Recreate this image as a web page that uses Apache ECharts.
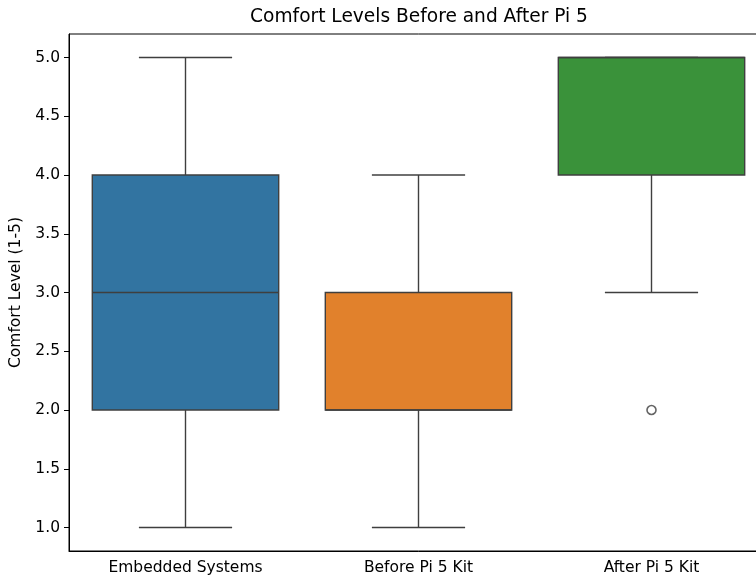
<!DOCTYPE html>
<html style="height: 100%">
   <head>
       <meta charset="utf-8">
   </head>
   <body style="height: 100%; margin: 0; overflow: hidden">
       <div id="container" style="width: 768px; height: 579px"></div>
       <script type="text/javascript" src="https://cdn.jsdelivr.net/npm/echarts@6/dist/echarts.min.js"></script>
       <script type="text/javascript">
var categories = ['Embedded Systems', 'Before Pi 5 Kit', 'After Pi 5 Kit'];
var whiskerLow = [1, 1, 3];
var q1 = [2, 2, 4];
var median = [3, 2, 5];
var q3 = [4, 3, 5];
var whiskerHigh = [5, 4, 5];
var outliers = [[2, 2]];
var boxColors = ['#3274a1', '#e1812c', '#3a923a'];
var yTicks = [1.0, 1.5, 2.0, 2.5, 3.0, 3.5, 4.0, 4.5, 5.0];

var lineColor = '#3f3f3f';
var fontFamily = 'DejaVu Sans';

var dom = document.getElementById("container");
var myChart = echarts.init(dom);

var boxData = categories.map(function (c, i) {
    return [i, whiskerLow[i], q1[i], median[i], q3[i], whiskerHigh[i]];
});

function renderBox(params, api) {
    var idx = api.value(0);
    var band = api.size([1, 0])[0];
    var boxW = band * 0.8;
    var capW = boxW * 0.5;
    var x = api.coord([idx, 0])[0];
    var yLow = api.coord([idx, api.value(1)])[1];
    var yQ1 = api.coord([idx, api.value(2)])[1];
    var yMed = api.coord([idx, api.value(3)])[1];
    var yQ3 = api.coord([idx, api.value(4)])[1];
    var yHigh = api.coord([idx, api.value(5)])[1];
    var ls = { stroke: lineColor, lineWidth: 1.4 };
    return {
        type: 'group',
        children: [
            { type: 'line', shape: { x1: x, y1: yQ1, x2: x, y2: yLow }, style: ls },
            { type: 'line', shape: { x1: x, y1: yQ3, x2: x, y2: yHigh }, style: ls },
            { type: 'line', shape: { x1: x - capW / 2, y1: yLow, x2: x + capW / 2, y2: yLow }, style: ls },
            { type: 'line', shape: { x1: x - capW / 2, y1: yHigh, x2: x + capW / 2, y2: yHigh }, style: ls },
            {
                type: 'rect',
                shape: { x: x - boxW / 2, y: yQ3, width: boxW, height: yQ1 - yQ3 },
                style: { fill: boxColors[params.dataIndex], stroke: lineColor, lineWidth: 1.4 }
            },
            { type: 'line', shape: { x1: x - boxW / 2, y1: yMed, x2: x + boxW / 2, y2: yMed }, style: ls }
        ]
    };
}

var option = {
    animation: false,
    title: {
        text: 'Comfort Levels Before and After Pi 5',
        left: 414,
        top: 3,
        textAlign: 'center',
        textStyle: { fontFamily: fontFamily, fontSize: 18.6, fontWeight: 'normal', color: '#000' }
    },
    grid: {
        left: 69, right: 0, top: 34, bottom: 28,
        show: true, borderColor: '#000', borderWidth: 1
    },
    xAxis: {
        type: 'category',
        data: categories,
        axisLine: { lineStyle: { color: '#000' } },
        axisTick: { alignWithLabel: true, length: 5, lineStyle: { color: '#000' } },
        axisLabel: { fontFamily: fontFamily, fontSize: 15.5, color: '#000', margin: 9 },
        splitLine: { show: false }
    },
    yAxis: {
        type: 'value',
        min: 0.8,
        max: 5.2,
        name: 'Comfort Level (1-5)',
        nameLocation: 'middle',
        nameGap: 39,
        nameTextStyle: { fontFamily: fontFamily, fontSize: 15.5, color: '#000' },
        axisLine: { show: true, lineStyle: { color: '#000' } },
        axisTick: { show: true, length: 5, customValues: yTicks, lineStyle: { color: '#000' } },
        axisLabel: {
            fontFamily: fontFamily, fontSize: 15.5, color: '#000', margin: 9,
            customValues: yTicks,
            formatter: function (v) { return v.toFixed(1); }
        },
        splitLine: { show: false }
    },
    series: [
        {
            type: 'custom',
            renderItem: renderBox,
            data: boxData,
            encode: { x: 0, y: [1, 2, 3, 4, 5] }
        },
        {
            type: 'scatter',
            data: outliers,
            symbol: 'circle',
            symbolSize: 9,
            itemStyle: { color: '#fff', borderColor: lineColor, borderWidth: 1.6 }
        }
    ]
};
myChart.setOption(option, true);
       </script>
   </body>
</html>
